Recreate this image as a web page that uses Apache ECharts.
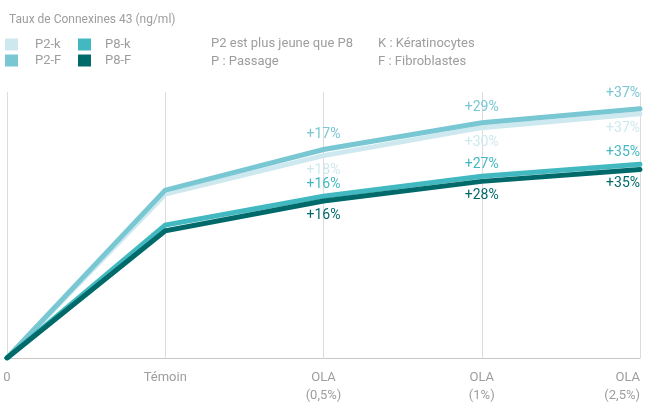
<!DOCTYPE html>
<html>
<head>
<meta charset="utf-8">
<script src="https://cdn.jsdelivr.net/npm/echarts@6/dist/echarts.min.js"></script>
<style>
  html, body { margin: 0; padding: 0; background: #fff; }
  #main { width: 654px; height: 405px; }
</style>
</head>
<body>
<div id="main"></div>
<script>
var categories = ['0', 'Témoin', 'OLA\n(0,5%)', 'OLA\n(1%)', 'OLA\n(2,5%)'];
var seriesNames = ['P2-k', 'P2-F', 'P8-k', 'P8-F'];
var p2k = [0, 61.6, 76.1, 86.6, 91.8];
var p2f = [0, 63.1, 78.4, 88.4, 93.7];
var p8k = [0, 50.0, 60.8, 68.3, 72.8];
var p8f = [0, 47.8, 59.0, 66.4, 70.9];
var p2kLabels = ['', '', '+18%', '+30%', '+37%'];
var p2fLabels = ['', '', '+17%', '+29%', '+37%'];
var p8kLabels = ['', '', '+16%', '+27%', '+35%'];
var p8fLabels = ['', '', '+16%', '+28%', '+35%'];

var colors = ['#cde9ef', '#78c7d3', '#42b9c0', '#00696a'];
var textGray = '#9d9d9d';
var fontFam = 'Roboto, "Noto Sans", sans-serif';

function buildData(values, labels, pos, dist) {
    return values.map(function (v, i) {
        var last = i === values.length - 1;
        return {
            value: v,
            label: {
                show: labels[i] !== '',
                formatter: labels[i],
                position: pos,
                distance: dist,
                align: last ? 'right' : 'center',
                offset: last ? [16, 0] : [0, 0]
            }
        };
    });
}

function makeSeries(name, idx, values, labels, pos, dist) {
    return {
        name: name,
        type: 'line',
        symbol: 'circle',
        showSymbol: true,
        symbolSize: 0,
        lineStyle: { width: 5, color: colors[idx], cap: 'round', join: 'miter' },
        itemStyle: { color: colors[idx] },
        label: {
            show: true,
            color: colors[idx],
            fontSize: 14,
            fontFamily: fontFam
        },
        labelLayout: { hideOverlap: false },
        z: 2 + idx,
        data: buildData(values, labels, pos, dist)
    };
}

var dom = document.getElementById('main');
var myChart = echarts.init(dom);
var option = {
    color: colors,
    animation: false,
    title: {
        text: 'Taux de Connexines 43 (ng/ml)',
        left: 4,
        top: 9,
        textStyle: { color: textGray, fontSize: 12, fontWeight: 'normal', fontFamily: fontFam }
    },
    legend: [{
        data: ['P2-k', 'P2-F'],
        orient: 'vertical',
        left: 5,
        top: 38,
        padding: 0,
        icon: 'rect',
        itemWidth: 13,
        itemHeight: 12,
        itemGap: 3,
        selectedMode: false,
        textStyle: { color: textGray, fontSize: 13, fontFamily: fontFam, padding: [0, 0, 0, 12] }
    }, {
        data: ['P8-k', 'P8-F'],
        orient: 'vertical',
        left: 78,
        top: 38,
        padding: 0,
        icon: 'rect',
        itemWidth: 13,
        itemHeight: 12,
        itemGap: 3,
        selectedMode: false,
        textStyle: { color: textGray, fontSize: 13, fontFamily: fontFam, padding: [0, 0, 0, 9] }
    }],
    graphic: [
        { type: 'text', left: 211, top: 37, style: { text: 'P2 est plus jeune que P8', fill: textGray, fontSize: 13, fontFamily: fontFam } },
        { type: 'text', left: 211, top: 55, style: { text: 'P : Passage', fill: textGray, fontSize: 13, fontFamily: fontFam } },
        { type: 'text', left: 378, top: 37, style: { text: 'K : Kératinocytes', fill: textGray, fontSize: 13, fontFamily: fontFam } },
        { type: 'text', left: 378, top: 55, style: { text: 'F : Fibroblastes', fill: textGray, fontSize: 13, fontFamily: fontFam } }
    ],
    grid: {
        top: 92,
        bottom: 45,
        left: 7,
        right: 14,
        containLabel: false
    },
    xAxis: {
        type: 'category',
        boundaryGap: false,
        data: categories,
        axisLine: { show: true, lineStyle: { color: '#c8c8c8', width: 1 } },
        axisTick: { show: false },
        splitLine: { show: true, lineStyle: { color: '#dcdcdc', width: 1 } },
        axisLabel: {
            color: textGray,
            fontSize: 13,
            fontFamily: fontFam,
            margin: 11,
            lineHeight: 18,
            interval: 0,
            alignMaxLabel: 'right'
        }
    },
    yAxis: {
        type: 'value',
        min: 0,
        max: 100,
        show: false,
        splitLine: { show: false }
    },
    series: [
        makeSeries('P2-k', 0, p2k, p2kLabels, 'bottom', 8),
        makeSeries('P2-F', 1, p2f, p2fLabels, 'top', 8),
        makeSeries('P8-k', 2, p8k, p8kLabels, 'top', 5),
        makeSeries('P8-F', 3, p8f, p8fLabels, 'bottom', 7)
    ]
};
if (option && typeof option === 'object') {
    myChart.setOption(option, true);
}
window.addEventListener('resize', function () {
    myChart.resize();
});
</script>
</body>
</html>
